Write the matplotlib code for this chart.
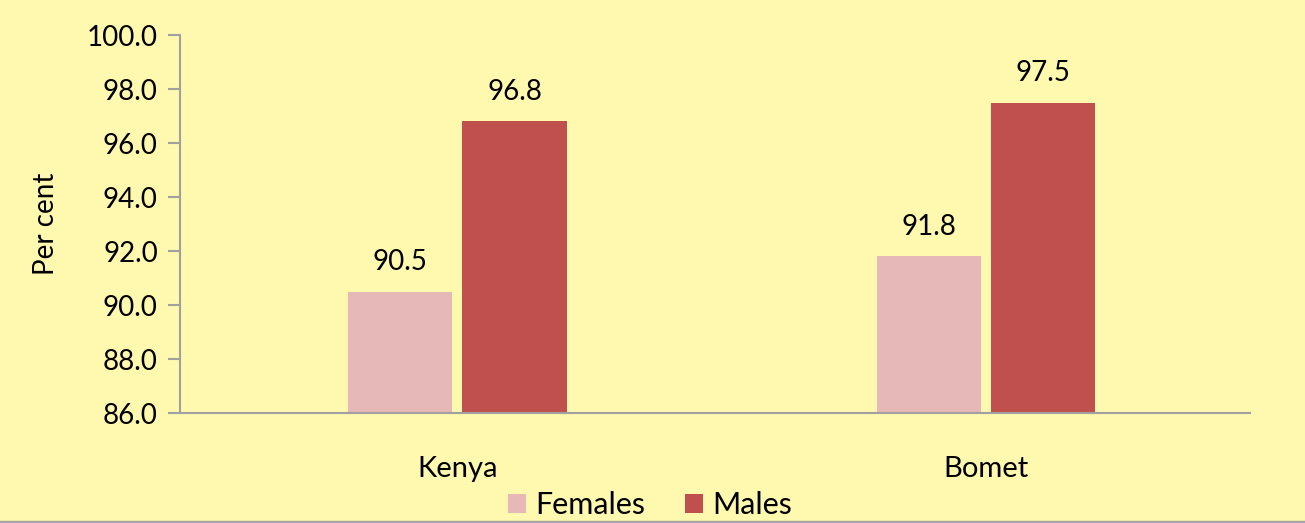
import matplotlib
matplotlib.use("Agg")
import matplotlib.pyplot as plt
import numpy as np
from matplotlib.lines import Line2D

categories = ["Kenya", "Bomet"]
females = [90.5, 91.8]
males = [96.8, 97.5]
yticks = [86.0, 88.0, 90.0, 92.0, 94.0, 96.0, 98.0, 100.0]

plt.rcParams['font.family'] = ['Lato', 'DejaVu Sans']
bg = '#FFF8AF'
c_f = '#E6B9B8'
c_m = '#C0504D'

fig = plt.figure(figsize=(13.05, 5.23), dpi=100, facecolor=bg)
W, H = 1305, 523
ax = fig.add_axes([180 / W, 1 - 413 / H, (1250 - 180) / W, (413 - 35) / H], facecolor=bg)

x = np.arange(len(categories))
bw = 0.197
off = 0.108
bf = ax.bar(x - off, females, width=bw, color=c_f, label='Females')
bm = ax.bar(x + off, males, width=bw, color=c_m, label='Males')

ax.set_ylim(86, 100)
ax.set_xlim(-0.525, 1.5)
ax.set_yticks(yticks)
ax.set_yticklabels([f"{v:.1f}" for v in yticks], fontsize=20)
ax.set_xticks(x)
ax.set_xticklabels(categories, fontsize=21)
ax.tick_params(axis='x', length=0, pad=31)
ax.tick_params(axis='y', length=9, width=1.5, color='#A0A0A0', pad=7)
for s in ['top', 'right']:
    ax.spines[s].set_visible(False)
for s in ['left', 'bottom']:
    ax.spines[s].set_color('#A0A0A0')
    ax.spines[s].set_linewidth(1.5)

for bars, vals in [(bf, females), (bm, males)]:
    for b, v in zip(bars, vals):
        ax.annotate(f"{v:.1f}", (b.get_x() + b.get_width() / 2, v),
                    xytext=(0, 12), textcoords='offset points',
                    ha='center', va='bottom', fontsize=20)

ax.set_ylabel("Per cent", fontsize=20, labelpad=20)

fig.legend(handles=[bf, bm], labels=['Females', 'Males'], loc='center',
           bbox_to_anchor=(650 / W, 1 - 505 / H), ncol=2, frameon=False,
           fontsize=22, handlelength=0.6, handleheight=0.6, handletextpad=0.3,
           columnspacing=1.3, borderpad=0.1)

fig.add_artist(Line2D([0, 1], [1 - 521.5 / H, 1 - 521.5 / H], transform=fig.transFigure,
                      color='#A6A6A6', linewidth=2.5))

fig.savefig("out.png", dpi=100, facecolor=bg)
